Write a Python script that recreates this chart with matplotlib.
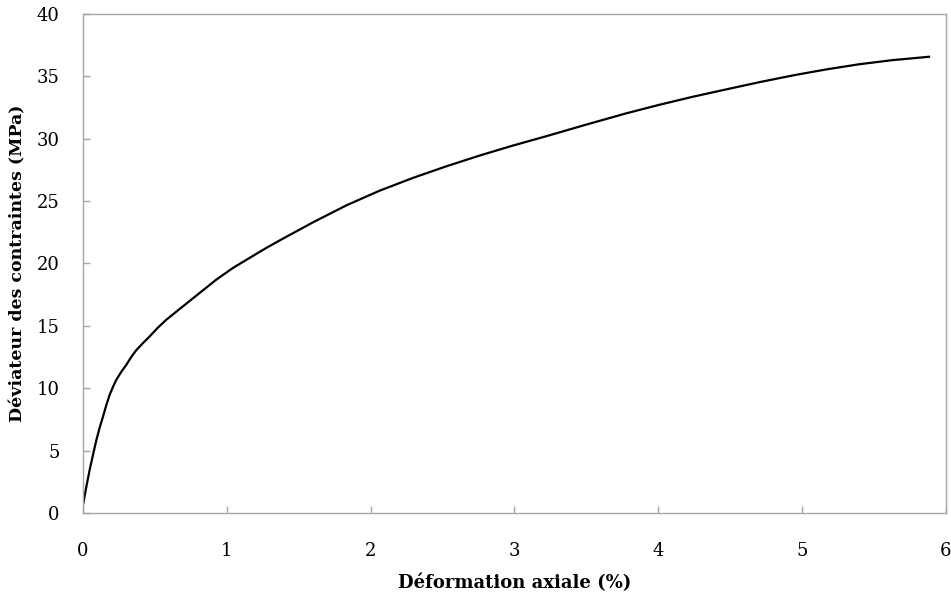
import numpy as np
import matplotlib.pyplot as plt

# deformation axiale (%) et deviateur (MPa)
deformation = [0.0, 0.023, 0.046, 0.07, 0.093, 0.116, 0.139, 0.162, 0.185, 0.208,
               0.231, 0.265, 0.301, 0.335, 0.37, 0.415, 0.463, 0.52, 0.579,
               0.694, 0.81, 0.926, 1.042, 1.157, 1.273, 1.377, 1.599, 1.831, 2.063,
               2.294, 2.526, 2.757, 2.988, 3.22, 3.45, 3.544, 3.775, 4.007, 4.238,
               4.47, 4.701, 4.933, 5.164, 5.396, 5.627, 5.882]
deviateur = [0.64, 2.1, 3.45, 4.7, 5.86, 6.85, 7.73, 8.65, 9.47, 10.1,
             10.67, 11.3, 11.88, 12.5, 13.05, 13.6, 14.15, 14.85, 15.49,
             16.56, 17.63, 18.70, 19.64, 20.44, 21.24, 21.91, 23.3, 24.66, 25.84,
             26.86, 27.79, 28.65, 29.45, 30.2, 30.97, 31.28, 32.03, 32.72, 33.36,
             33.95, 34.53, 35.07, 35.55, 35.97, 36.3, 36.57]

xticks = [0, 1, 2, 3, 4, 5, 6]
yticks = [0, 5, 10, 15, 20, 25, 30, 35, 40]

plt.rcParams['font.family'] = ['DejaVu Serif']
gris = "#a6a6a6"

fig = plt.figure(figsize=(9.51, 5.95), dpi=100)
ax = fig.add_axes([0.0873, 0.1378, 0.9074, 0.8387])
ax.plot(deformation, deviateur, color="black", linewidth=1.6)

ax.set_xlim(0, 6)
ax.set_ylim(0, 40)
ax.set_xticks(xticks)
ax.set_yticks(yticks)
for s in ax.spines.values():
    s.set_color(gris)
    s.set_linewidth(1.0)
ax.tick_params(axis="both", direction="in", length=5, width=1, color=gris, labelsize=13)
ax.tick_params(axis="x", pad=21, top=False)
ax.tick_params(axis="y", pad=17, right=False)

ax.set_xlabel("Déformation axiale (%)", fontsize=13, fontweight="bold", labelpad=10)
ax.set_ylabel("Déviateur des contraintes (MPa)", fontsize=12.5, fontweight="bold", labelpad=7)

fig.savefig("out.png", dpi=100)
